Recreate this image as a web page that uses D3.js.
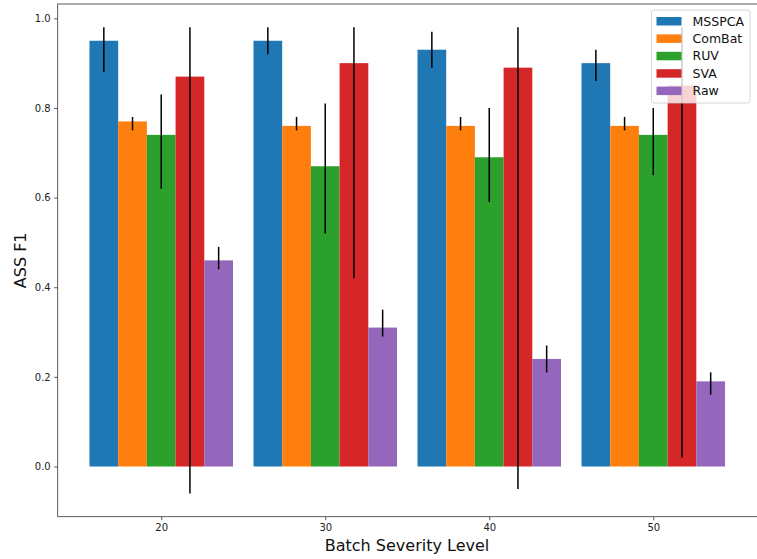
<!DOCTYPE html>
<html>
<head>
<meta charset="utf-8">
<script src="https://cdn.jsdelivr.net/npm/d3@7"></script>
<style>
  html, body { margin: 0; padding: 0; background: #fff; }
  svg { display: block; font-family: "DejaVu Sans", sans-serif; }
</style>
</head>
<body>
<svg id="chart" width="757" height="559"></svg>
<script>
// Batch severity levels on the x axis
const levels = [20, 30, 40, 50];
const methods = ["MSSPCA", "ComBat", "RUV", "SVA", "Raw"];
const colors = ["#1f77b4", "#ff7f0e", "#2ca02c", "#d62728", "#9467bd"];

// Mean ASS F1 per method, one entry per severity level
const msspca = [0.95, 0.95, 0.93, 0.90];
const combat = [0.77, 0.76, 0.76, 0.76];
const ruv    = [0.74, 0.67, 0.69, 0.74];
const sva    = [0.87, 0.90, 0.89, 0.85];
const raw    = [0.46, 0.31, 0.24, 0.19];

// Error bar extents (lower / upper) per method
const msspcaLo = [0.88, 0.92, 0.89, 0.86];
const msspcaHi = [0.98, 0.98, 0.97, 0.93];
const combatLo = [0.75, 0.75, 0.75, 0.75];
const combatHi = [0.78, 0.78, 0.78, 0.78];
const ruvLo    = [0.62, 0.52, 0.59, 0.65];
const ruvHi    = [0.83, 0.81, 0.80, 0.80];
const svaLo    = [-0.06, 0.42, -0.05, 0.02];
const svaHi    = [0.98, 0.98, 0.98, 0.98];
const rawLo    = [0.44, 0.29, 0.21, 0.16];
const rawHi    = [0.49, 0.35, 0.27, 0.21];

const yTicks = [0.0, 0.2, 0.4, 0.6, 0.8, 1.0];

const series = [
  { values: msspca, lo: msspcaLo, hi: msspcaHi },
  { values: combat, lo: combatLo, hi: combatHi },
  { values: ruv,    lo: ruvLo,    hi: ruvHi },
  { values: sva,    lo: svaLo,    hi: svaHi },
  { values: raw,    lo: rawLo,    hi: rawHi }
];

const barWidth = 1.75; // in data units of the severity axis

const svg = d3.select("#chart");
const plot = { left: 57.7, top: 4, right: 757.6, bottom: 516.7 };

const x = d3.scaleLinear().domain([13.6875, 56.3125]).range([plot.left, 756.8]);
const y = d3.scaleLinear().domain([-0.112, 1.032]).range([plot.bottom, plot.top]);

// Bars
series.forEach((s, i) => {
  const offset = (i - 2) * barWidth;
  svg.append("g")
    .selectAll("rect")
    .data(levels.map((lv, j) => ({ lv, v: s.values[j] })))
    .join("rect")
    .attr("x", d => x(d.lv + offset - barWidth / 2))
    .attr("width", d => x(d.lv + offset + barWidth / 2) - x(d.lv + offset - barWidth / 2))
    .attr("y", d => y(Math.max(d.v, 0)))
    .attr("height", d => Math.abs(y(d.v) - y(0)))
    .attr("fill", colors[i]);
});

// Error bars
series.forEach((s, i) => {
  const offset = (i - 2) * barWidth;
  svg.append("g")
    .selectAll("line")
    .data(levels.map((lv, j) => ({ lv, lo: s.lo[j], hi: s.hi[j] })))
    .join("line")
    .attr("x1", d => x(d.lv + offset))
    .attr("x2", d => x(d.lv + offset))
    .attr("y1", d => y(d.lo))
    .attr("y2", d => y(d.hi))
    .attr("stroke", "#000")
    .attr("stroke-width", 1.5);
});

// Axes
const xAxis = d3.axisBottom(x).tickValues(levels).tickFormat(d3.format("d")).tickSizeOuter(0).tickSize(3.5).tickPadding(3.5);
const yAxis = d3.axisLeft(y).tickValues(yTicks).tickFormat(d3.format(".1f")).tickSizeOuter(0).tickSize(3.5).tickPadding(3.5);

const gx = svg.append("g").attr("transform", `translate(0,${plot.bottom})`).call(xAxis);
const gy = svg.append("g").attr("transform", `translate(${plot.left},0)`).call(yAxis);
[gx, gy].forEach(g => {
  g.select(".domain").remove();
  g.selectAll(".tick line").attr("stroke", "#333").attr("stroke-width", 0.8);
  g.selectAll(".tick text").attr("fill", "#222").style("font-size", "10px").style("font-family", "DejaVu Sans");
});

// Frame
svg.append("rect")
  .attr("x", plot.left).attr("y", plot.top)
  .attr("width", plot.right - plot.left).attr("height", plot.bottom - plot.top)
  .attr("fill", "none").attr("stroke", "#333").attr("stroke-width", 0.8);

// Axis labels
svg.append("text")
  .attr("x", 407).attr("y", 551)
  .attr("text-anchor", "middle")
  .style("font-size", "16px").attr("fill", "#111")
  .text("Batch Severity Level");

svg.append("text")
  .attr("transform", `translate(26,${(plot.top + plot.bottom) / 2}) rotate(-90)`)
  .attr("text-anchor", "middle")
  .style("font-size", "16px").attr("fill", "#111")
  .text("ASS F1");

// Legend
const lg = svg.append("g").attr("transform", "translate(651.5,10)");
lg.append("rect")
  .attr("width", 98.5).attr("height", 93)
  .attr("rx", 2.5)
  .attr("fill", "#fff").attr("fill-opacity", 0.8)
  .attr("stroke", "#ccc").attr("stroke-width", 0.8);
methods.forEach((m, i) => {
  const row = lg.append("g").attr("transform", `translate(0,${7 + i * 17.4})`);
  row.append("rect").attr("x", 5).attr("y", 0).attr("width", 25).attr("height", 8.5).attr("fill", colors[i]);
  row.append("text").attr("x", 41).attr("y", 8.5)
    .style("font-size", "12.5px").attr("fill", "#111").text(m);
});
</script>
</body>
</html>
